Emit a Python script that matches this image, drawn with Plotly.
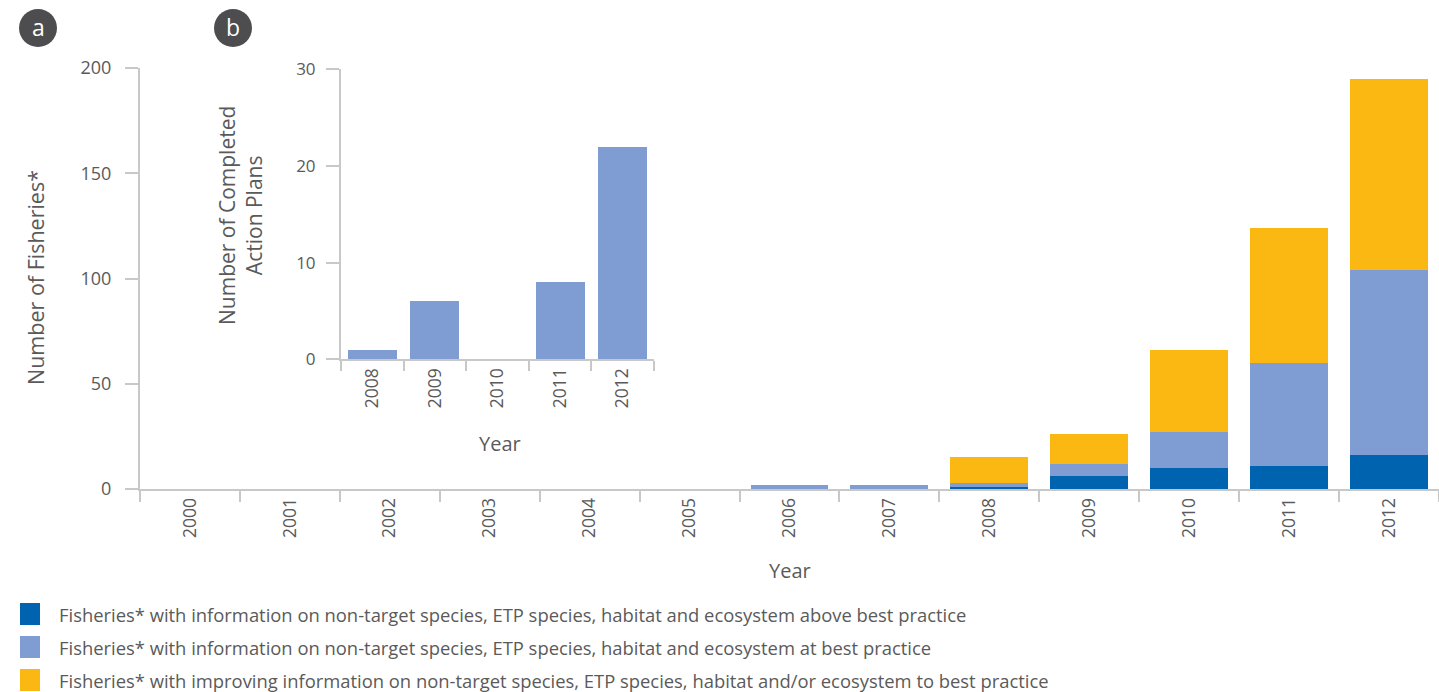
import plotly.graph_objects as go

# ---- data ----
years = ["2000", "2001", "2002", "2003", "2004", "2005", "2006",
         "2007", "2008", "2009", "2010", "2011", "2012"]
above_best = [0, 0, 0, 0, 0, 0, 0, 0, 1, 6, 10, 11, 16]
at_best = [0, 0, 0, 0, 0, 0, 2, 2, 2, 6, 17, 49, 88]
improving = [0, 0, 0, 0, 0, 0, 0, 0, 12, 14, 39, 64, 91]

inset_years = ["2008", "2009", "2010", "2011", "2012"]
action_plans = [1, 6, 0, 8, 22]

legend_labels = [
    "Fisheries* with information on non-target species, ETP species, habitat and ecosystem above best practice",
    "Fisheries* with information on non-target species, ETP species, habitat and ecosystem at best practice",
    "Fisheries* with improving information on non-target species, ETP species, habitat and/or ecosystem to best practice",
]

C_DARK = "#0063AF"
C_LIGHT = "#7F9DD2"
C_YELLOW = "#FBB813"
AX = "#C8C8C8"
TXT = "#5A5A5A"
FONT = "Open Sans"

W, H = 1439, 692
def px(x):
    return x / W
def py(y):
    return (H - y) / H

fig = go.Figure()
for vals, col in [(above_best, C_DARK), (at_best, C_LIGHT), (improving, C_YELLOW)]:
    fig.add_trace(go.Bar(x=years, y=vals, marker=dict(color=col, line_width=0),
                         showlegend=False, xaxis="x", yaxis="y", hoverinfo="x+y"))

fig.add_trace(go.Bar(x=inset_years, y=action_plans, marker=dict(color=C_LIGHT, line_width=0),
                     showlegend=False, xaxis="x2", yaxis="y2"))

axis_common = dict(showgrid=False, zeroline=False, showline=True, linecolor=AX, linewidth=2,
                   ticks="outside", tickcolor=AX, tickwidth=2, automargin=False,
                   tickfont=dict(family=FONT, size=17.5, color=TXT))

fig.update_layout(
    width=W, height=H, autosize=False,
    margin=dict(l=0, r=0, t=0, b=0, pad=0),
    paper_bgcolor="white", plot_bgcolor="rgba(0,0,0,0)",
    barmode="stack", bargap=0.22, showlegend=False,
    font=dict(family=FONT, color=TXT),
    xaxis=dict(axis_common, domain=[px(140), 1.0], anchor="y", type="category",
               range=[-0.5, 12.5], tickson="boundaries", ticklen=11, tickangle=-90),
    yaxis=dict(axis_common, domain=[py(489), py(68)], anchor="x", range=[0, 200],
               tickvals=[0, 50, 100, 150, 200], ticklen=13, ticklabelstandoff=10,
               tickfont=dict(family=FONT, size=18, color=TXT)),
    xaxis2=dict(axis_common, domain=[px(341), px(654)], anchor="y2", type="category",
                range=[-0.5, 4.5], tickson="boundaries", ticklen=10, tickangle=-90),
    yaxis2=dict(axis_common, domain=[py(359.3), py(69.3)], anchor="x2", range=[0, 30],
                tickvals=[0, 10, 20, 30], ticklen=13, ticklabelstandoff=7,
                tickfont=dict(family=FONT, size=17, color=TXT)),
)

ann = []
def text(x, y, s, size=18, angle=0, xanchor="center", color=TXT):
    ann.append(dict(x=px(x), y=py(y), xref="paper", yref="paper", text=s, showarrow=False,
                    textangle=angle, xanchor=xanchor, yanchor="middle",
                    font=dict(family=FONT, size=size, color=color)))

text(790, 570, "Year", size=20)
text(35, 278, "Number of Fisheries*", size=21.5, angle=-90)
text(500, 443, "Year", size=20)
text(241, 216, "Number of Completed<br>Action Plans", size=21, angle=-90)

shapes = []
# panel labels
for cx, lab in [(38, "a"), (233, "b")]:
    r = 19
    shapes.append(dict(type="circle", xref="paper", yref="paper",
                       x0=px(cx - r), x1=px(cx + r), y0=py(28 + r), y1=py(28 - r),
                       fillcolor="#4D4D4F", line_width=0))
    text(cx, 27, lab, size=23, color="white")

# legend
leg_cols = [C_DARK, C_LIGHT, C_YELLOW]
for i, (lab, col) in enumerate(zip(legend_labels, leg_cols)):
    yc = 614 + i * 33
    shapes.append(dict(type="rect", xref="paper", yref="paper",
                       x0=px(20), x1=px(40), y0=py(yc + 11), y1=py(yc - 11),
                       fillcolor=col, line_width=0))
    text(57, yc, lab, size=18.4, xanchor="left")

fig.update_layout(annotations=ann, shapes=shapes)
fig.write_html("out.html", config={"displayModeBar": False},
               post_script="document.body.style.margin='0';")
